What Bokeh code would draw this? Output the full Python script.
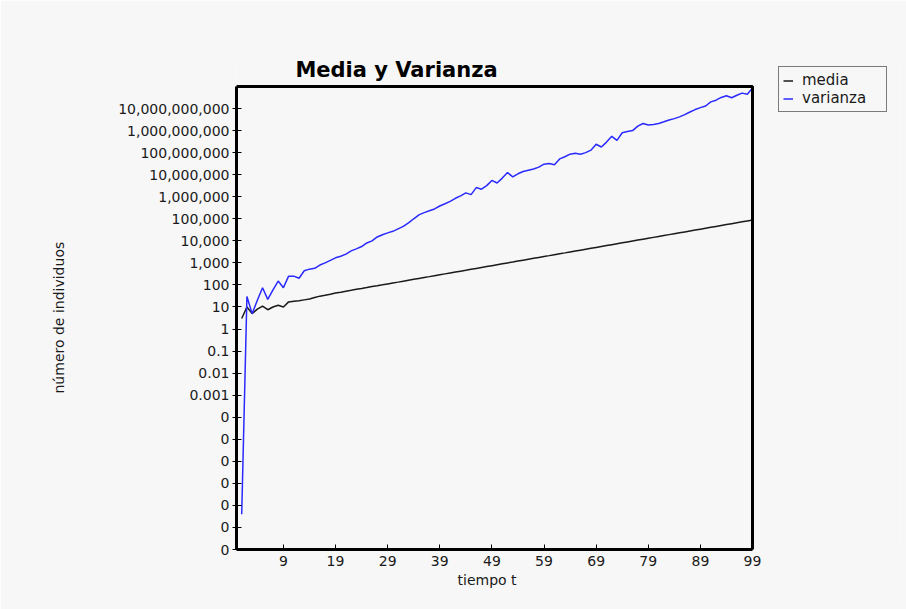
from bokeh.plotting import figure
from bokeh.models import (FixedTicker, CustomJSTickFormatter, Legend, LegendItem,
                          Range1d, BoxAnnotation, Label, Title)
from bokeh.embed import file_html
from bokeh.resources import INLINE

# ---- data ----
t = list(range(1, 100))

media = [3, 10, 5, 8, 11, 7.5, 10, 12, 10, 17,
         18, 19, 21, 23, 27, 31, 34, 38, 43, 47,
         52, 57, 63, 69, 76, 84, 92, 101, 111, 122,
         134, 148, 163, 179, 197, 217, 238, 262, 288, 317,
         349, 384, 422, 464, 511, 562, 618, 680, 748, 823,
         905, 996, 1095, 1205, 1325, 1458, 1604, 1764, 1940, 2134,
         2348, 2583, 2841, 3125, 3438, 3781, 4160, 4576, 5033, 5537,
         6090, 6699, 7369, 8106, 8917, 9808, 10789, 11868, 13055, 14360,
         15796, 17376, 19114, 21025, 23128, 25440, 27984, 30783, 33861, 37247,
         40972, 45069, 49576, 54534, 59987, 65986, 72584, 79843, 87827]

varianza = [4e-9, 30, 5, 20, 75, 22, 60, 150, 75, 250,
            250, 200, 440, 520, 570, 800, 1000, 1300, 1700, 2000,
            2500, 3500, 4300, 5500, 8000, 10000, 15000, 19000, 23000, 27000,
            35000, 45000, 65000, 100000, 150000, 190000, 230000, 280000, 380000, 480000,
            620000, 850000, 1.1e6, 1.5e6, 1.25e6, 2.6e6, 2.2e6, 3.2e6, 5.5e6, 4.2e6,
            7e6, 1.25e7, 8e6, 1.1e7, 1.4e7, 1.6e7, 1.8e7, 2.2e7, 3e7, 3.2e7,
            2.8e7, 5.2e7, 6.5e7, 8.5e7, 9.3e7, 8.5e7, 1e8, 1.3e8, 2.4e8, 1.8e8,
            3e8, 5.5e8, 3.6e8, 8e8, 9e8, 1e9, 1.6e9, 2.1e9, 1.8e9, 1.9e9,
            2.1e9, 2.5e9, 3e9, 3.5e9, 4.2e9, 5.3e9, 7e9, 9e9, 1.1e10, 1.3e10,
            2e10, 2.4e10, 3.2e10, 3.8e10, 3.1e10, 4e10, 5e10, 4.5e10, 8.5e10]

x_ticks = [9, 19, 29, 39, 49, 59, 69, 79, 89, 99]
y_ticks = [1e-10, 1e-9, 1e-8, 1e-7, 1e-6, 1e-5, 1e-4, 1e-3, 1e-2, 1e-1,
           1, 10, 100, 1e3, 1e4, 1e5, 1e6, 1e7, 1e8, 1e9, 1e10]
y_tick_labels = ["0", "0", "0", "0", "0", "0", "0", "0.001", "0.01", "0.1",
                 "1", "10", "100", "1,000", "10,000", "100,000", "1,000,000",
                 "10,000,000", "100,000,000", "1,000,000,000", "10,000,000,000"]

# axis extents of the drawn plot box
x_lo, x_hi = 0, 99
y_lo_exp, y_hi_exp = -10, 11

# ---- layout (pixels) ----
W, H = 906, 609
BORDER_L, BORDER_R, BORDER_T, BORDER_B = 236, 6, 60, 60
BOX_W, BOX_H = 516, 463          # visible plot box size in px
frame_w = W - BORDER_L - BORDER_R
frame_h = H - BORDER_T - BORDER_B
x_frame_hi = x_lo + (x_hi - x_lo) * frame_w / BOX_W
y_frame_hi_exp = y_lo_exp + (y_hi_exp - y_lo_exp) * frame_h / BOX_H
px_per_x = BOX_W / (x_hi - x_lo)
px_per_dec = BOX_H / (y_hi_exp - y_lo_exp)

BG = "#f7f7f7"
FONT = "DejaVu Sans"
TXT = "#1a1a1a"

p = figure(width=W, height=H, y_axis_type="log",
           x_range=Range1d(x_lo, x_frame_hi),
           y_range=Range1d(10.0 ** y_lo_exp, 10.0 ** y_frame_hi_exp),
           output_backend="svg", toolbar_location=None,
           min_border_left=BORDER_L, min_border_right=BORDER_R,
           min_border_top=BORDER_T, min_border_bottom=BORDER_B)

p.background_fill_color = BG
p.border_fill_color = BG
p.outline_line_color = None
p.grid.visible = False

# visible box (top and right edges; left/bottom are the axis lines)
p.add_layout(BoxAnnotation(left=x_lo, right=x_hi,
                           bottom=10.0 ** y_lo_exp, top=10.0 ** y_hi_exp,
                           fill_alpha=0, line_color="black", line_alpha=1,
                           line_width=3))

# x axis
xa = p.xaxis[0]
xa.bounds = (x_lo, x_hi)
xa.ticker = FixedTicker(ticks=x_ticks)
xa.axis_line_width = 3
xa.axis_line_color = "black"
xa.major_tick_in = 5
xa.major_tick_out = 0
xa.minor_tick_line_color = None
xa.major_label_text_font = FONT
xa.major_label_text_font_size = "14px"
xa.major_label_text_color = TXT
xa.major_label_standoff = 6

# y axis
ya = p.yaxis[0]
ya.bounds = (10.0 ** y_lo_exp, 10.0 ** y_hi_exp)
ya.ticker = FixedTicker(ticks=y_ticks)
ya.formatter = CustomJSTickFormatter(
    args=dict(labels=y_tick_labels),
    code="const k = Math.round(Math.log10(tick)); return labels[k + 10];")
ya.axis_line_width = 3
ya.axis_line_color = "black"
ya.major_tick_in = 5
ya.major_tick_out = 4
ya.minor_tick_line_color = None
ya.major_label_text_font = FONT
ya.major_label_text_font_size = "14px"
ya.major_label_text_color = TXT
ya.major_label_standoff = 3

# axis titles, positioned against the visible box
p.add_layout(Title(text="tiempo t", align="left", offset=221, standoff=2,
                   text_font=FONT, text_font_size="14px",
                   text_font_style="normal", text_color=TXT), "below")
p.add_layout(Title(text="número de individuos", align="left", offset=156,
                   standoff=94, vertical_align="top",
                   text_font=FONT, text_font_size="14px",
                   text_font_style="normal", text_color=TXT), "left")

r_media = p.line(t, media, line_color="#1a1a1a", line_width=1.5)
r_var = p.line(t, varianza, line_color="#2a2aff", line_width=1.5)

# chart title, centred at page px x=396, y=69
title_x = x_lo + (396 - BORDER_L) / px_per_x
title_y = 10.0 ** (y_lo_exp + (H - BORDER_B - 69) / px_per_dec)
p.add_layout(Label(x=title_x, y=title_y, text="Media y Varianza",
                   text_align="center", text_baseline="middle",
                   text_font=FONT, text_font_style="bold",
                   text_font_size="21px", text_color="black"))

legend = Legend(items=[LegendItem(label="media", renderers=[r_media]),
                       LegendItem(label="varianza", renderers=[r_var])],
                location=(778 - BORDER_L, H - BORDER_B - 112))
legend.background_fill_color = BG
legend.background_fill_alpha = 1
legend.border_line_color = "black"
legend.border_line_width = 1.5
legend.label_text_font = FONT
legend.label_text_font_size = "15px"
legend.label_text_color = TXT
legend.label_width = 80
legend.glyph_width = 10
legend.glyph_height = 17
legend.label_height = 17
legend.label_standoff = 9
legend.spacing = 0
legend.padding = 4
legend.margin = 0
p.add_layout(legend, "center")

open("out.html", "w").write(file_html(p, INLINE))
